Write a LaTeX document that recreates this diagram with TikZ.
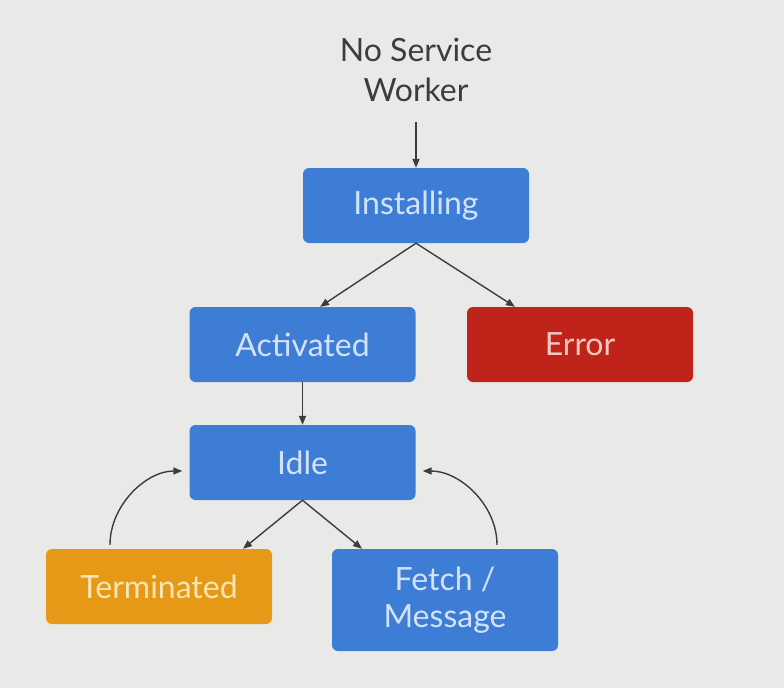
\documentclass[tikz,border=0pt]{standalone}
\usepackage{fontspec}
\setmainfont{Lato}
\usetikzlibrary{arrows.meta}
\definecolor{bg}{RGB}{233,234,232}
\definecolor{gblue}{RGB}{62,125,214}
\definecolor{gred}{RGB}{192,35,25}
\definecolor{gorange}{RGB}{230,153,22}
\definecolor{btxt}{RGB}{212,226,248}
\definecolor{otxt}{RGB}{250,228,180}
\definecolor{rtxt}{RGB}{246,200,196}
\definecolor{ink}{RGB}{60,60,60}
\begin{document}
\begin{tikzpicture}[x=1pt,y=-1pt,
  state/.style={rounded corners=6pt, minimum width=226pt, minimum height=75pt, inner sep=0pt, align=center,
     font=\fontsize{32}{36}\selectfont},
  bluebox/.style={state, fill=gblue, text=btxt},
  redbox/.style={state, fill=gred, text=rtxt},
  orangebox/.style={state, fill=gorange, text=otxt},
  conn/.style={draw=ink, line width=1.4pt, -{Triangle[length=9pt,width=7pt]}},
  loopconn/.style={conn, shorten <=4pt, shorten >=7pt}]
\fill[bg] (0,0) rectangle (784,688);
\useasboundingbox (0,0) rectangle (784,688);
\node[text=ink, align=center, font=\fontsize{32}{40}\selectfont] (nsw) at (416,70) {No Service\\Worker};
\node[bluebox] (inst) at (416,205.5) {Installing};
\node[bluebox] (act) at (302.5,344.5) {Activated};
\node[redbox] (err) at (580,344.5) {Error};
\node[bluebox] (idle) at (302.5,462.5) {Idle};
\node[orangebox] (term) at (159,586.5) {Terminated};
\node[bluebox, minimum height=102pt, font=\fontsize{32}{37}\selectfont] (fetch) at (445,600) {Fetch /\\Message};
\coordinate (nswb) at (416,122);
\draw[conn] (nswb) -- (inst.north);
\draw[conn] (inst.south) -- (act.north -| 320,0);
\draw[conn] (inst.south) -- (err.north -| 515,0);
\draw[conn] (act.south) -- (idle.north);
\draw[conn] (idle.south) -- (term.north -| 243,0);
\draw[conn] (idle.south) -- (fetch.north -| 362,0);
\draw[loopconn] (term.north -| 110,0) to[out=90,in=180,looseness=1] (idle.west |- 0,471);
\draw[loopconn] (fetch.north -| 497,0) to[out=90,in=0,looseness=1] (idle.east |- 0,471);
\end{tikzpicture}
\end{document}
